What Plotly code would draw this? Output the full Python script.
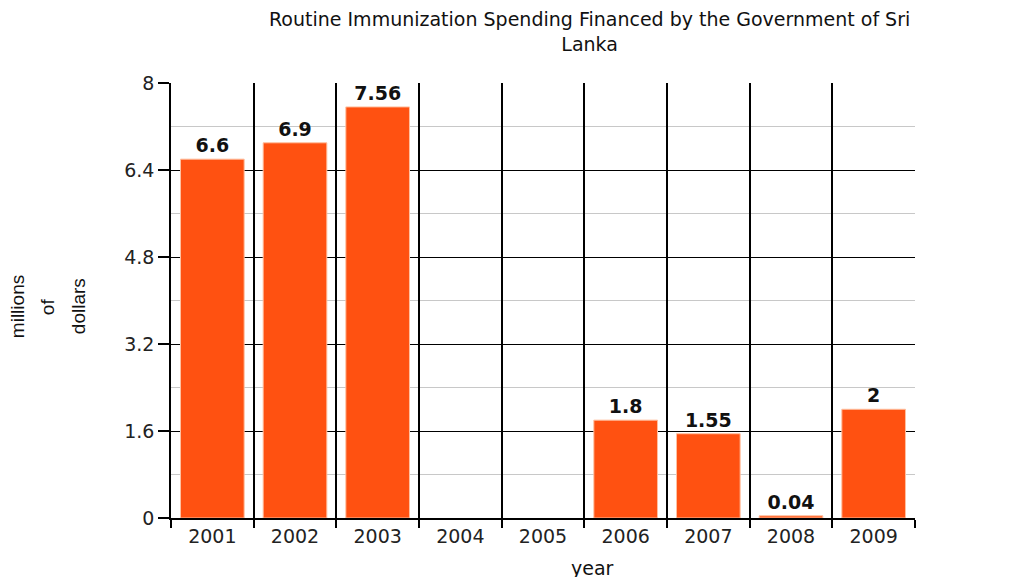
import plotly.graph_objects as go

years = ["2001", "2002", "2003", "2004", "2005", "2006", "2007", "2008", "2009"]
spending = [6.6, 6.9, 7.56, None, None, 1.8, 1.55, 0.04, 2]
labels = ["6.6", "6.9", "7.56", "", "", "1.8", "1.55", "0.04", "2"]
y_ticks = [0, 1.6, 3.2, 4.8, 6.4, 8]
y_tick_text = ["0", "1.6", "3.2", "4.8", "6.4", "8"]
y_title_lines = ["millions", "of", "dollars"]
chart_title = "Routine Immunization Spending Financed by the Government of Sri<br>Lanka"

fig = go.Figure()
fig.add_trace(go.Bar(
    x=years, y=spending, text=labels, textposition="outside",
    textfont=dict(family="DejaVu Sans", size=19, color="#111111", weight="bold"),
    marker=dict(color="#FF5111", line=dict(color="#FFC0A0", width=1)),
    width=0.77, cliponaxis=False,
))

y_title_x = [-0.207, -0.1667, -0.125]
annotations = []
for txt, xp in zip(y_title_lines, y_title_x):
    annotations.append(dict(
        text=txt, xref="paper", yref="paper", x=xp, y=0.487,
        xanchor="center", yanchor="middle", textangle=-90, showarrow=False,
        font=dict(family="Liberation Sans", size=19, color="#111111"),
    ))
annotations.append(dict(
    text="year", xref="paper", yref="paper", x=0.567, y=-0.115,
    xanchor="center", yanchor="middle", showarrow=False,
    font=dict(family="DejaVu Sans", size=19, color="#111111"),
))
annotations.append(dict(
    text=chart_title, xref="paper", yref="paper", x=0.563, y=1.118,
    xanchor="center", yanchor="middle", showarrow=False, align="center",
    font=dict(family="DejaVu Sans", size=19, color="#111111"),
))

fig.update_layout(
    width=1013, height=577,
    margin=dict(l=163, r=106, t=75, b=67),
    paper_bgcolor="white", plot_bgcolor="white",
    showlegend=False,
    font=dict(family="DejaVu Sans", color="#222222"),
    xaxis=dict(
        type="category", tickson="boundaries",
        showgrid=True, gridcolor="#000000", gridwidth=1.5,
        ticks="outside", ticklen=8, tickwidth=1.5, tickcolor="#000000",
        showline=True, linecolor="#000000", linewidth=1.5,
        tickfont=dict(family="DejaVu Sans", size=19, color="#222222"),
        title=None,
    ),
    yaxis=dict(
        range=[0, 8], tickvals=y_ticks, ticktext=y_tick_text,
        showgrid=True, gridcolor="#000000", gridwidth=1.2,
        ticks="outside", ticklen=11, tickwidth=1.5, tickcolor="#000000",
        showline=True, linecolor="#000000", linewidth=1.5,
        zeroline=False,
        tickfont=dict(family="DejaVu Sans", size=19, color="#222222"),
        minor=dict(dtick=0.8, showgrid=True, gridcolor="#C8C8C8", gridwidth=1, ticks=""),
        title=None,
    ),
    annotations=annotations,
)

fig.write_html("out.html")
